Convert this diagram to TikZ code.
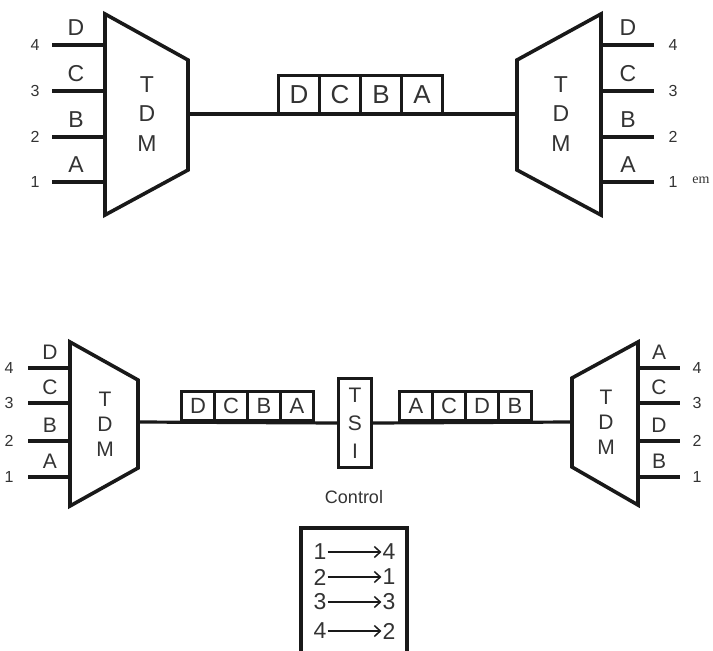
\documentclass[tikz,border=0pt]{standalone}
\usepackage{fontspec}
\setmainfont{Liberation Sans}
\newfontfamily\serifem{Liberation Serif}
\usetikzlibrary{arrows.meta}
\definecolor{ink}{gray}{0.1}
\definecolor{txt}{gray}{0.2}
\begin{document}
\begin{tikzpicture}[x=1pt,y=-1pt,
  trap/.style={draw=ink,line width=3.6pt,line join=miter},
  wire/.style={draw=ink,line width=3.2pt},
  big/.style={text=txt,font=\fontsize{23}{30}\selectfont,inner sep=0pt},
  mid/.style={text=txt,font=\fontsize{21}{26}\selectfont,inner sep=0pt},
  num/.style={text=txt,font=\fontsize{16}{18}\selectfont,inner sep=0pt},
  cellA/.style={draw=ink,line width=3pt,minimum width=41pt,minimum height=38pt,inner sep=0pt,text=txt,font=\fontsize{26}{30}\selectfont,anchor=south west},
  cellB/.style={draw=ink,line width=3pt,minimum width=33pt,minimum height=29pt,inner sep=0pt,text=txt,font=\fontsize{22}{26}\selectfont,anchor=south west},
  tab/.style={text=txt,font=\fontsize{23}{26}\selectfont,inner sep=1pt},
  arr/.style={draw=ink,line width=1.5pt,-{Straight Barb[length=6pt,width=11pt,line width=1.5pt]}}
]
\useasboundingbox (0,0) rectangle (713,651);

% ===== top =====
\draw[trap] (105,14) -- (188,60) -- (188,170) -- (105,215) -- cycle;
\node[big,align=center] (tdm1) at (147,114) {T\\[-0.5pt]D\\[-0.5pt]M};
\draw[trap] (601,14) -- (517,60) -- (517,170) -- (601,215) -- cycle;
\node[big,align=center] (tdm2) at (561,114) {T\\[-0.5pt]D\\[-0.5pt]M};

\foreach \y/\l/\n [count=\i] in {45/D/4,91/C/3,137/B/2,182/A/1}{
  \coordinate (li\i) at (52,\y); \coordinate (le\i) at (105,\y);
  \draw[wire] (li\i) -- (le\i);
  \node[big] (ll\i) at (76,\y-17) {\l};
  \node[num] (ln\i) at (35,\y) {\n};
  \coordinate (ri\i) at (601,\y); \coordinate (re\i) at (654,\y);
  \draw[wire] (ri\i) -- (re\i);
  \node[big] (rl\i) at (628,\y-17) {\l};
  \node[num] (rn\i) at (673,\y) {\n};
}
\node[text=txt,font=\serifem\fontsize{14}{15}\selectfont,inner sep=0pt] (em) at (701,180) {em};

\coordinate (t1) at (188,114); \coordinate (t2) at (517,114);
\draw[wire] (t1) -- (t2);
\foreach \l [count=\i] in {D,C,B,A}{
  \node[cellA] (pa\i) at ({277+41*(\i-1)},115) {\l};
}

% ===== bottom =====
\draw[trap] (70,342) -- (138,380) -- (138,468) -- (70,506) -- cycle;
\node[mid,align=center] (tdm3) at (105,424) {T\\[-1pt]D\\[-1pt]M};
\draw[trap] (638,342) -- (572,378) -- (572,467) -- (638,505) -- cycle;
\node[mid,align=center] (tdm4) at (606,422) {T\\[-1pt]D\\[-1pt]M};

\foreach \y/\l/\n/\r [count=\i] in {368/D/4/A,403/C/3/C,441/B/2/D,477/A/1/B}{
  \coordinate (bi\i) at (28,\y); \coordinate (be\i) at (70,\y);
  \draw[wire] (bi\i) -- (be\i);
  \node[mid] (bl\i) at (50,\y-16) {\l};
  \node[num] (bn\i) at (9,\y) {\n};
  \coordinate (ci\i) at (638,\y); \coordinate (ce\i) at (680,\y);
  \draw[wire] (ci\i) -- (ce\i);
  \node[mid] (cl\i) at (659,\y-16) {\r};
  \node[num] (cn\i) at (697,\y) {\n};
}

\coordinate (b1) at (138,422); \coordinate (b2) at (572,422);
\node[draw=ink,line width=3.2pt,fill=white,minimum width=33pt,minimum height=89pt,inner sep=0pt,text=txt,font=\fontsize{21}{28}\selectfont,align=center] (tsi) at (355,423) {T\\S\\I};
\draw[wire] (b1) -- (tsi.west);
\draw[wire] (tsi.east) -- (b2);
\foreach \l [count=\i] in {D,C,B,A}{
  \node[cellB] (pb\i) at ({180+33*(\i-1)},422) {\l};
}
\foreach \l [count=\i] in {A,C,D,B}{
  \node[cellB] (pc\i) at ({398+33*(\i-1)},422) {\l};
}

\node[text=txt,font=\fontsize{18}{20}\selectfont,inner sep=0pt] (ctl) at (354,497) {Control};
\draw[draw=ink,line width=3.2pt] (301,652) -- (301,528) -- (407,528) -- (407,652);
\foreach \a/\b/\y [count=\i] in {1/4/552,2/1/577,3/3/602,4/2/631}{
  \node[tab] (ta\i) at (320,\y) {\a};
  \node[tab] (tb\i) at (389,\y) {\b};
  \draw[arr] (ta\i.east) -- (tb\i.west);
}
\end{tikzpicture}
\end{document}
